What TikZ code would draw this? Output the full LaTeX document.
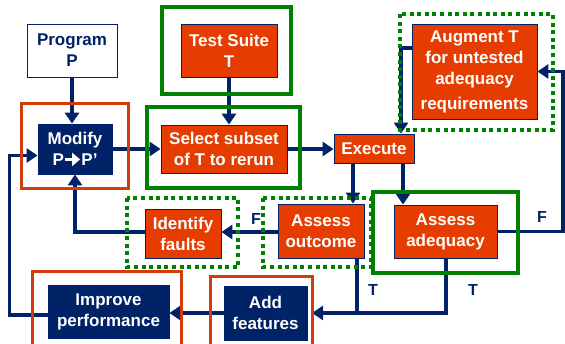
\documentclass[tikz,border=0pt]{standalone}
\usepackage{fontspec}
\setmainfont{Liberation Sans}
\usetikzlibrary{arrows.meta}

\definecolor{navy}{RGB}{0,34,102}
\definecolor{orng}{RGB}{230,60,0}
\definecolor{rframecol}{RGB}{210,60,10}
\definecolor{grn}{RGB}{0,128,0}

% bold arrow used inside the "Modify" box
\newcommand{\boldarrow}{\tikz[baseline=0pt, x=1pt, y=1pt]
  \draw[white, line width=2.6pt, -{Triangle[length=8pt,width=13pt]}] (0,6) -- (15,6);}

\tikzset{
  obox/.style={draw=navy, line width=0.8pt, fill=orng, text=white,
    font=\bfseries\fontsize{17}{21}\selectfont, align=center, inner sep=0pt},
  nbox/.style={obox, fill=navy},
  wbox/.style={obox, fill=white, text=navy},
  wire/.style={draw=navy, line width=3.4pt},
  conn/.style={wire, -{Triangle[length=11pt,width=14pt]}},
  gframe/.style={draw=grn, line width=4pt},
  dframe/.style={draw=grn, line width=4pt, dash pattern=on 4pt off 3.6pt},
  rframe/.style={draw=rframecol, line width=3pt},
  lbl/.style={text=navy, font=\bfseries\fontsize{16}{16}\selectfont}
}

\begin{document}
\begin{tikzpicture}[x=1pt, y=-1pt]
\useasboundingbox (0,0) rectangle (565,343);
\begin{scope}
\clip (0,0) rectangle (565,343);

% boxes
\node[wbox, minimum width=90pt, minimum height=53pt] (prog) at (72,50.5) {Program\\P};
\node[obox, minimum width=96pt, minimum height=53pt] (ts) at (229,50.5) {Test Suite\\T};
\node[nbox, minimum width=74pt, minimum height=50pt] (modify) at (75,149)
  {Modify\\P\boldarrow P’};
\node[obox, minimum width=126pt, minimum height=48pt] (sel) at (224,149) {Select subset\\of T to rerun};
\node[obox, minimum width=80pt, minimum height=29pt] (exec) at (374,148.5) {Execute};
\node[obox, minimum width=125pt, minimum height=95pt] (aug) at (474.5,71.5)
  {Augment T\\for untested\\adequacy\\[4pt]requirements};
\node[obox, minimum width=76pt, minimum height=49pt] (ident) at (183,233.5) {Identify\\faults};
\node[obox, minimum width=86pt, minimum height=54pt] (outcome) at (321,231) {Assess\\outcome};
\node[obox, minimum width=103pt, minimum height=53pt] (adeq) at (445.5,231.5) {Assess\\adequacy};
\node[nbox, minimum width=121pt, minimum height=53pt] (improve) at (108.5,311.5) {Improve\\performance};
\node[nbox, minimum width=83pt, minimum height=54pt] (add) at (265.5,313) {Add\\features};

\coordinate (addin) at (312,313);

% connectors
\draw[conn] (prog.south) -- (prog.south |- modify.north);
\draw[conn] (ts.south) -- (ts.south |- sel.north);
\draw[conn] (modify.east) -- (sel.west |- modify.east);
\draw[conn] (sel.east) -- (exec.west |- sel.east);
\draw[conn] (aug.west |- 0,48) -- (401,48) -- (401,0 |- exec.north);
\draw[conn] (353,0 |- exec.south) -- (353,0 |- outcome.north);
\draw[conn] (403,0 |- exec.south) -- (403,0 |- adeq.north);
\draw[conn] (outcome.west |- 0,232) -- (ident.east |- 0,232);
\draw[conn] (ident.west |- 0,232) -| (modify.south);
\draw[conn] (adeq.east) -- (563,0 |- adeq.east) |- (aug.east);
\draw[wire] (357,0 |- outcome.south) -- (357,313);
\draw[conn] (446,0 |- adeq.south) |- (addin);
\draw[conn] (add.west) -- (improve.east |- add.west);
\draw[conn] (improve.west |- 0,315) -- (9.5,315) -- (9.5,155.5) -- (modify.west |- 0,155.5);

% branch labels
\node[lbl] (fout) at (256,219) {F};
\node[lbl] (fadeq) at (542,217) {F};
\node[lbl] (tout) at (373,290) {T};
\node[lbl] (tadeq) at (473,290) {T};

% frames
\draw[gframe] (162,7) rectangle (291,94);
\draw[gframe] (147,107) rectangle (300,188);
\draw[gframe] (373,192) rectangle (518,273);
\draw[rframe] (21,103) rectangle (128,188);
\draw[rframe] (32,271) rectangle (181,360);
\draw[rframe] (210,276) rectangle (312,360);
\draw[dframe] (400,14) rectangle (553,130);
\draw[dframe] (127,198) rectangle (238,267);
\draw[dframe] (263,198) rectangle (371,267);
\end{scope}
\end{tikzpicture}
\end{document}
